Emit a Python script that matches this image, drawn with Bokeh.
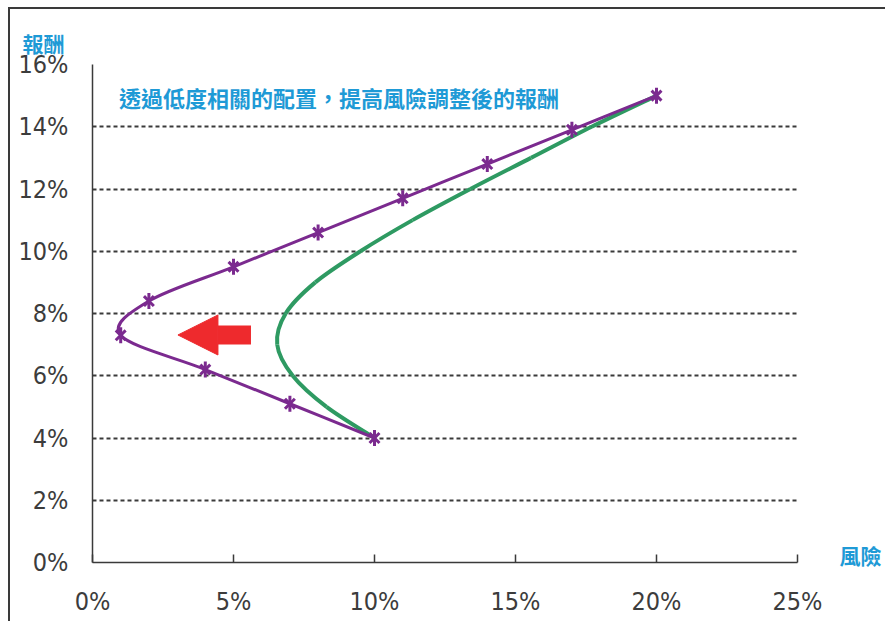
import math
from bokeh.plotting import figure
from bokeh.models import (Range1d, Label, FixedTicker, Arrow, NormalHead, ColumnDataSource,
                          LinearAxis)
from bokeh.embed import file_html
from bokeh.resources import INLINE

# ---- data (risk %, return %) ----
purple_risk = [20, 17, 14, 11, 8, 5, 2, 1, 4, 7, 10]
purple_return = [15.0, 13.9, 12.8, 11.7, 10.6, 9.5, 8.4, 7.3, 6.2, 5.1, 4.0]

green_risk = [20, 17.7, 15.55, 13.4, 11.35, 9.5, 7.9, 6.85, 6.55, 7.1, 8.3, 10]
green_return = [15, 14, 13, 12, 11, 10, 9, 8, 7, 6, 5, 4]

x_ticks = [0, 5, 10, 15, 20, 25]
x_tick_labels = ["0%", "5%", "10%", "15%", "20%", "25%"]
y_ticks = [0, 2, 4, 6, 8, 10, 12, 14, 16]
y_tick_labels = ["0%", "2%", "4%", "6%", "8%", "10%", "12%", "14%", "16%"]

title_text = "透過低度相關的配置，提高風險調整後的報酬"
y_title = "報酬"
x_title = "風險"

PURPLE = "#7b2a8f"
GREEN = "#2e9a62"
BLUE = "#1e9ad6"
RED = "#ee2a2d"
GRAY = "#3a3a3a"
CJK = "Noto Sans CJK TC"
NUM_FONT = "'Liberation Sans Narrow', 'DejaVu Sans Condensed', 'Liberation Sans'"


def smooth_segments(xs, ys):
    """Bezier segments through the points (Excel-style smoothed line)."""
    n = len(xs)
    d = dict(x0=[], y0=[], x1=[], y1=[], cx0=[], cy0=[], cx1=[], cy1=[])
    for i in range(n - 1):
        xp, yp = (xs[i - 1], ys[i - 1]) if i > 0 else (xs[i], ys[i])
        xn, yn = (xs[i + 2], ys[i + 2]) if i + 2 < n else (xs[i + 1], ys[i + 1])
        d["x0"].append(xs[i]); d["y0"].append(ys[i])
        d["x1"].append(xs[i + 1]); d["y1"].append(ys[i + 1])
        d["cx0"].append(xs[i] + (xs[i + 1] - xp) / 6)
        d["cy0"].append(ys[i] + (ys[i + 1] - yp) / 6)
        d["cx1"].append(xs[i + 1] - (xn - xs[i]) / 6)
        d["cy1"].append(ys[i + 1] - (yn - ys[i]) / 6)
    return ColumnDataSource(d)


p = figure(width=877, height=614,
           x_range=Range1d(0, 25), y_range=Range1d(0, 16),
           output_backend="svg", toolbar_location=None,
           min_border_left=82, min_border_right=90,
           min_border_top=55, min_border_bottom=61)
p.margin = (7, 0, 0, 8)
p.styles = {"border-left": f"2px solid {GRAY}", "border-top": f"2px solid {GRAY}",
            "box-sizing": "border-box"}
p.outline_line_color = None
p.background_fill_color = "white"
p.border_fill_color = "white"

# y title (top-left) as plot title
p.title.text = y_title
p.title.align = "left"
p.title.vertical_align = "top"
p.title.offset = -70
p.title.standoff = 10
p.title.text_font = CJK
p.title.text_font_size = "21px"
p.title.text_font_style = "bold"
p.title.text_color = BLUE

# grid
p.xgrid.visible = False
p.ygrid.ticker = FixedTicker(ticks=y_ticks)
p.ygrid.grid_line_color = GRAY
p.ygrid.grid_line_dash = "4 3"
p.ygrid.grid_line_width = 2

# axes
for ax in (p.xaxis[0], p.yaxis[0]):
    ax.axis_line_color = GRAY
    ax.axis_line_width = 1.5
    ax.major_tick_line_color = GRAY
    ax.major_tick_line_width = 1.5
    ax.minor_tick_line_color = None
    ax.major_label_text_font = NUM_FONT
    ax.major_label_text_font_size = "25px"
    ax.major_label_text_color = "#3c3c3c"

p.xaxis.ticker = FixedTicker(ticks=x_ticks)
p.xaxis.major_label_overrides = dict(zip(x_ticks, x_tick_labels))
p.xaxis.major_tick_in = 8
p.xaxis.major_tick_out = 0
p.xaxis.major_label_standoff = 24

p.yaxis.ticker = FixedTicker(ticks=y_ticks)
p.yaxis.major_label_overrides = dict(zip(y_ticks, y_tick_labels))
p.yaxis.major_tick_in = 0
p.yaxis.major_tick_out = 0
p.yaxis.major_label_standoff = 24

# x title (right of the x axis end) as a label-only axis on the right
x_name_pos = 0.25
x_name_axis = LinearAxis(ticker=FixedTicker(ticks=[x_name_pos]),
                         major_label_overrides={x_name_pos: x_title},
                         axis_line_color=None, major_tick_line_color=None,
                         minor_tick_line_color=None,
                         major_label_standoff=36,
                         major_label_text_font=CJK,
                         major_label_text_font_size="21px",
                         major_label_text_font_style="bold",
                         major_label_text_color=BLUE)
p.add_layout(x_name_axis, "right")

# green curve
p.bezier(x0="x0", y0="y0", x1="x1", y1="y1", cx0="cx0", cy0="cy0", cx1="cx1", cy1="cy1",
         source=smooth_segments(green_risk, green_return),
         line_color=GREEN, line_width=4)

# purple curve
p.bezier(x0="x0", y0="y0", x1="x1", y1="y1", cx0="cx0", cy0="cy0", cx1="cx1", cy1="cy1",
         source=smooth_segments(purple_risk, purple_return),
         line_color=PURPLE, line_width=3)
p.scatter(purple_risk, purple_return, marker="x", size=14, line_color=PURPLE, line_width=3)
p.scatter(purple_risk, purple_return, marker="dash", angle=math.pi / 2, size=16,
          line_color=PURPLE, line_width=3)

# red arrow
p.add_layout(Arrow(end=NormalHead(size=40, fill_color=RED, line_color=RED, line_width=1),
                   x_start=5.62, y_start=7.31, x_end=3.03, y_end=7.31,
                   line_color=RED, line_width=19))

# annotation text
p.add_layout(Label(x=0.94, y=14.97, text=title_text, text_font=CJK, text_font_size="22px",
                   text_font_style="bold", text_color=BLUE, text_baseline="middle"))

open("out.html", "w").write(file_html(p, INLINE))
